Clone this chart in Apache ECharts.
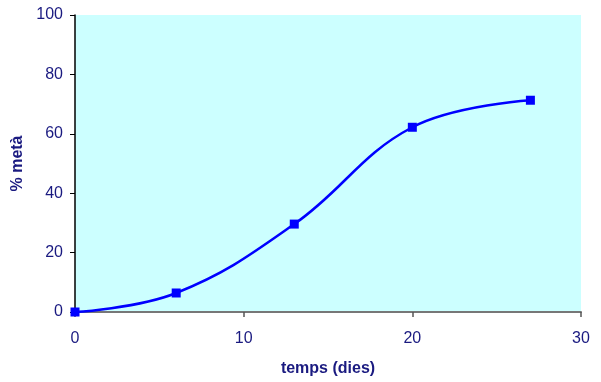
<!DOCTYPE html>
<html>
<head>
<meta charset="utf-8">
<script src="https://cdn.jsdelivr.net/npm/echarts@6/dist/echarts.min.js"></script>
<style>
  html, body { margin: 0; padding: 0; background: #ffffff; }
  #chart { width: 601px; height: 382px; }
</style>
</head>
<body>
<div id="chart"></div>
<script>
// Methane production over time
const days = [0, 6, 13, 20, 27];
const methanePct = [0, 6.4, 29.6, 62.2, 71.3];

const xTicks = { min: 0, max: 30, interval: 10 };
const yTicks = { min: 0, max: 100, interval: 20 };

const labelColor = '#1a1a80';
const font = 'Liberation Sans, Arial, sans-serif';

const chart = echarts.init(document.getElementById('chart'));
chart.setOption({
  animation: false,
  grid: {
    left: 75, right: 20, top: 15, bottom: 69,
    show: true, backgroundColor: '#ccffff', borderWidth: 0
  },
  xAxis: {
    type: 'value',
    min: xTicks.min, max: xTicks.max, interval: xTicks.interval,
    name: 'temps (dies)',
    nameLocation: 'middle',
    nameGap: 49,
    nameTextStyle: { color: labelColor, fontFamily: font, fontSize: 16, fontWeight: 'bold' },
    axisLine: { show: true, lineStyle: { color: '#777777', width: 2 } },
    axisTick: { show: true, inside: false, length: 5, lineStyle: { color: '#555555', width: 1.5 } },
    axisLabel: { color: labelColor, fontFamily: font, fontSize: 16, margin: 19 },
    splitLine: { show: false }
  },
  yAxis: {
    type: 'value',
    min: yTicks.min, max: yTicks.max, interval: yTicks.interval,
    name: '% metà',
    nameLocation: 'middle',
    nameGap: 46,
    nameRotate: 90,
    nameTextStyle: { color: labelColor, fontFamily: font, fontSize: 16, fontWeight: 'bold' },
    axisLine: { show: true, lineStyle: { color: '#000000', width: 1.5 } },
    axisTick: { show: true, inside: false, length: 5, lineStyle: { color: '#000000', width: 1 } },
    axisLabel: { color: labelColor, fontFamily: font, fontSize: 16, margin: 12 },
    splitLine: { show: false }
  },
  series: [{
    type: 'line',
    data: days.map((d, i) => [d, methanePct[i]]),
    smooth: 0.4,
    symbol: 'rect',
    symbolSize: 9,
    lineStyle: { color: '#0000ff', width: 2.5 },
    itemStyle: { color: '#0000ff' },
    z: 3
  }]
});
</script>
</body>
</html>
